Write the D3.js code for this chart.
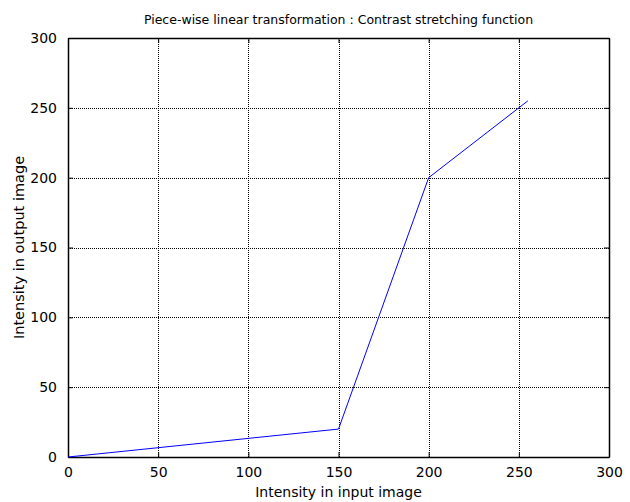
<!DOCTYPE html>
<html>
<head>
<meta charset="utf-8">
<script src="https://cdn.jsdelivr.net/npm/d3@7/dist/d3.min.js"></script>
<style>
  html, body { margin: 0; padding: 0; background: #fff; }
  svg { display: block; }
  text { font-family: "DejaVu Sans", Verdana, sans-serif; fill: #000; }
</style>
</head>
<body>
<script>
// Contrast stretching transfer function: breakpoints (r, s)
const inputLevels = [0, 150, 200, 255];
const outputLevels = [0, 20, 200, 255];

const xTickValues = [0, 50, 100, 150, 200, 250, 300];
const yTickValues = [0, 50, 100, 150, 200, 250, 300];

const titleText = "Piece-wise linear transformation : Contrast stretching function";
const xLabelText = "Intensity in input image";
const yLabelText = "Intensity in output image";

const width = 630, height = 502;
const margin = { left: 68, right: 21, top: 38, bottom: 45 };
const plotW = width - margin.left - margin.right;
const plotH = height - margin.top - margin.bottom;

const svg = d3.select("body").append("svg")
  .attr("width", width).attr("height", height);

const x = d3.scaleLinear().domain([0, 300]).range([margin.left, margin.left + plotW]);
const y = d3.scaleLinear().domain([0, 300]).range([margin.top + plotH, margin.top]);

const g = svg.append("g");

// dotted grid
g.append("g").selectAll("line.vg")
  .data(xTickValues.filter(v => v > 0 && v < 300))
  .join("line")
  .attr("x1", d => Math.round(x(d)) + 0.5).attr("x2", d => Math.round(x(d)) + 0.5)
  .attr("y1", y(300)).attr("y2", y(0))
  .attr("stroke", "#000").attr("stroke-width", 1).attr("stroke-dasharray", "1,1");

g.append("g").selectAll("line.hg")
  .data(yTickValues.filter(v => v > 0 && v < 300))
  .join("line")
  .attr("y1", d => Math.round(y(d)) + 0.5).attr("y2", d => Math.round(y(d)) + 0.5)
  .attr("x1", x(0)).attr("x2", x(300))
  .attr("stroke", "#000").attr("stroke-width", 1).attr("stroke-dasharray", "1,1");

// axes with inward ticks on all four sides
const tickLen = 5;
const bottomAxis = d3.axisBottom(x).tickValues(xTickValues).tickSizeInner(-tickLen).tickSizeOuter(0).tickPadding(tickLen + 5);
const leftAxis = d3.axisLeft(y).tickValues(yTickValues).tickSizeInner(-tickLen).tickSizeOuter(0).tickPadding(tickLen + 6);
const topAxis = d3.axisTop(x).tickValues(xTickValues).tickSizeInner(-tickLen).tickSizeOuter(0).tickFormat("");
const rightAxis = d3.axisRight(y).tickValues(yTickValues).tickSizeInner(-tickLen).tickSizeOuter(0).tickFormat("");

function styleAxis(sel) {
  sel.select(".domain").attr("stroke", "#000").attr("stroke-width", 1.5);
  sel.selectAll(".tick line").attr("stroke", "#000");
  sel.selectAll(".tick text").attr("font-size", 14).attr("font-family", "\"DejaVu Sans\", Verdana, sans-serif");
}

g.append("g").attr("transform", `translate(0,${y(0)})`).call(bottomAxis).call(styleAxis);
g.append("g").attr("transform", `translate(${x(0)},0)`).call(leftAxis).call(styleAxis);
g.append("g").attr("transform", `translate(0,${y(300)})`).call(topAxis).call(styleAxis);
g.append("g").attr("transform", `translate(${x(300)},0)`).call(rightAxis).call(styleAxis);

// transfer curve
const pts = inputLevels.map((r, i) => [r, outputLevels[i]]);
g.append("path")
  .datum(pts)
  .attr("fill", "none")
  .attr("stroke", "#0000ff")
  .attr("stroke-width", 1)
  .attr("d", d3.line().x(d => x(d[0])).y(d => y(d[1])));

// labels
svg.append("text")
  .attr("x", (x(0) + x(300)) / 2).attr("y", 24)
  .attr("text-anchor", "middle").attr("font-size", 12.5)
  .text(titleText);

svg.append("text")
  .attr("x", (x(0) + x(300)) / 2).attr("y", 497)
  .attr("text-anchor", "middle").attr("font-size", 14)
  .text(xLabelText);

svg.append("text")
  .attr("transform", `translate(24,${(y(0) + y(300)) / 2}) rotate(-90)`)
  .attr("text-anchor", "middle").attr("font-size", 14.5)
  .text(yLabelText);
</script>
</body>
</html>
